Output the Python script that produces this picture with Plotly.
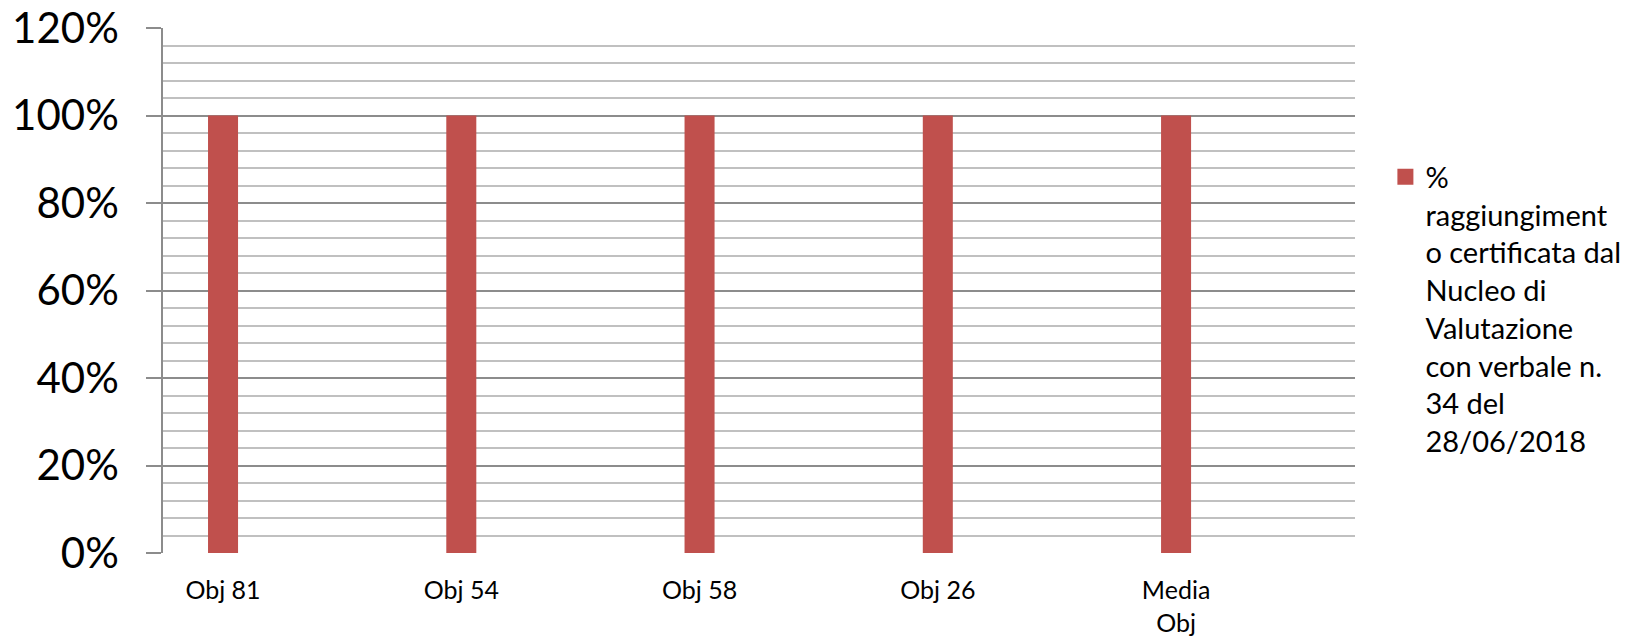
import plotly.graph_objects as go

categories = ["Obj 81", "Obj 54", "Obj 58", "Obj 26", "Media<br>Obj"]
values = [1.0, 1.0, 1.0, 1.0, 1.0]
series_name = ("%<br>raggiungiment<br>o certificata dal<br>Nucleo di<br>"
               "Valutazione<br>con verbale n.<br>34 del<br>28/06/2018")
y_ticks = [0, 0.2, 0.4, 0.6, 0.8, 1.0, 1.2]
y_ticktext = ["0%", "20%", "40%", "60%", "80%", "100%", "120%"]

FONT = "Lato, Carlito, Calibri, sans-serif"
RED = "#C0504D"

fig = go.Figure()
fig.add_trace(go.Bar(
    x=categories, y=values, name=series_name,
    marker=dict(color=RED, line=dict(width=0)),
    width=0.126,
    showlegend=False,
))
# legend entry only (bigger square swatch like the original)
fig.add_trace(go.Scatter(
    x=[None], y=[None], name=series_name, mode="markers",
    marker=dict(color=RED, symbol="square", size=18),
    showlegend=True, hoverinfo="skip",
))

fig.update_layout(
    width=1628, height=640,
    margin=dict(l=163, r=273, t=28, b=87, autoexpand=False),
    paper_bgcolor="white", plot_bgcolor="white",
    font=dict(family=FONT, color="black"),
    showlegend=True,
    legend=dict(
        x=1.0255, y=0.765, xanchor="left", yanchor="top",
        font=dict(size=29, family=FONT, color="black"),
        valign="top", bgcolor="rgba(0,0,0,0)", borderwidth=0,
        itemsizing="trace",
    ),
)

fig.update_xaxes(
    type="category", range=[-0.252, 4.751],
    showline=False, showgrid=False, ticks="",
    tickfont=dict(size=25, family=FONT, color="black"),
    ticklabelstandoff=20,
    zeroline=False, automargin=False,
)

fig.update_yaxes(
    range=[0, 1.2],
    tickvals=y_ticks, ticktext=y_ticktext,
    tickfont=dict(size=42, family=FONT, color="black"),
    showgrid=True, gridcolor="#8C8C8C", gridwidth=1.5,
    minor=dict(dtick=0.04, showgrid=True, gridcolor="#C0C0C0", gridwidth=1.5, ticks=""),
    ticks="outside", ticklen=15, tickcolor="#8C8C8C", tickwidth=1.5,
    showline=True, linecolor="#8C8C8C", linewidth=1.5,
    zeroline=False, automargin=False,
    ticklabelstandoff=19,
)

# drop the page's default body margin so the figure fills the window exactly
fig.write_html(
    "out.html",
    config={"displayModeBar": False},
    post_script="document.body.style.margin='0';document.body.style.overflow='hidden';",
)
